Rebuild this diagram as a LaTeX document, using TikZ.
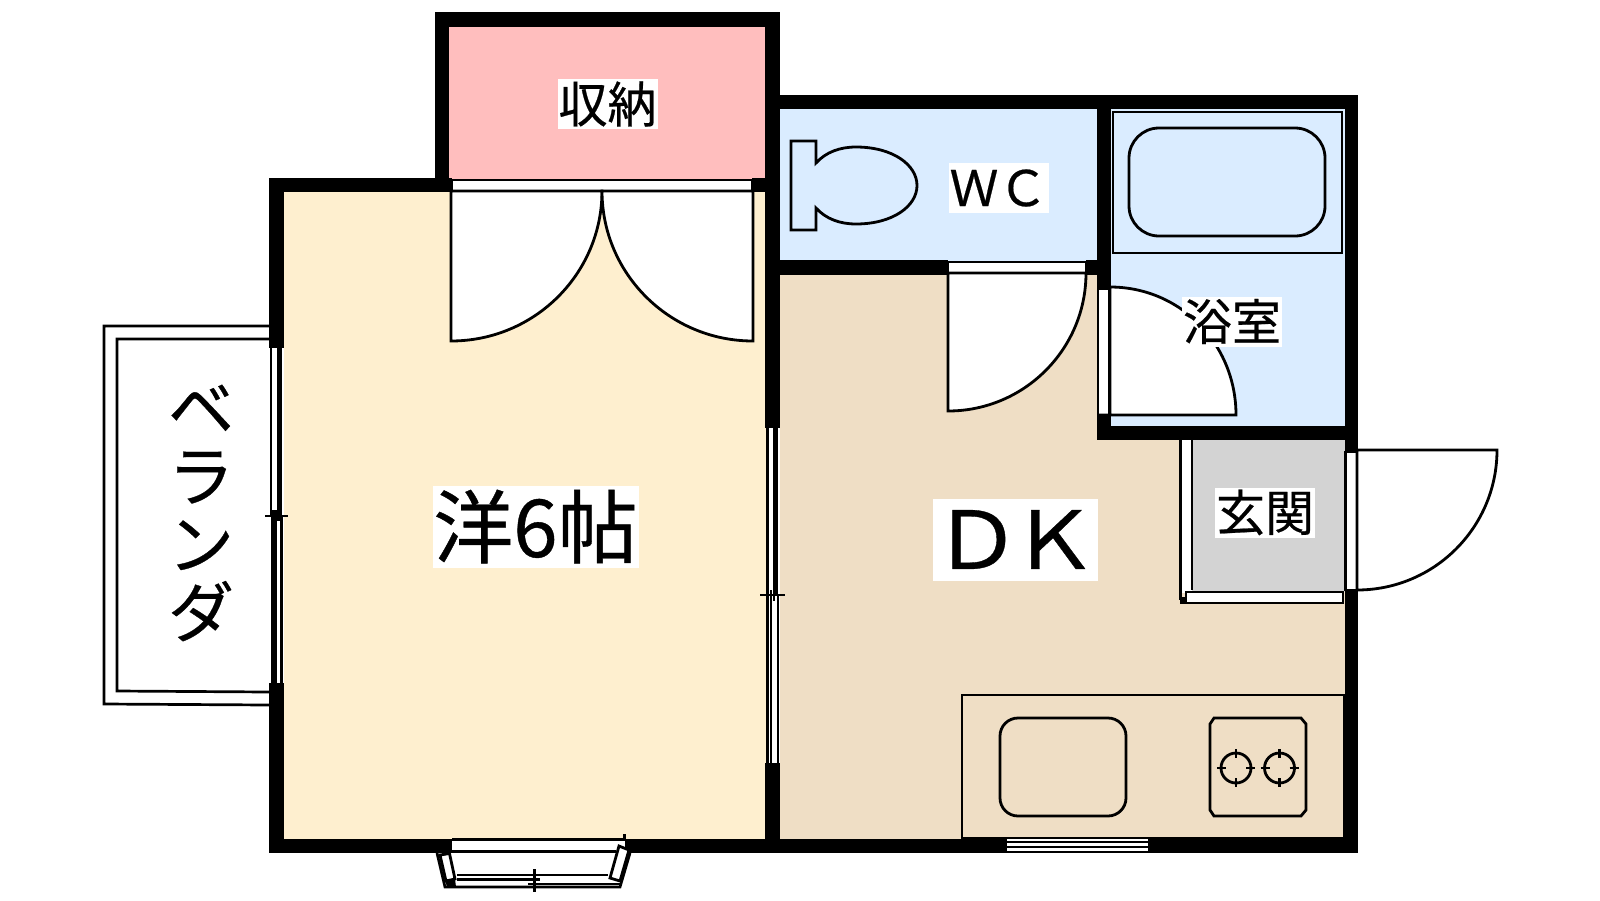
\documentclass[tikz,border=0pt]{standalone}
\usepackage{fontspec}
\setmainfont{Noto Sans CJK JP}[FakeBold=0.45]
\newfontfamily\widelatin{Noto Sans CJK JP}[FakeBold=0.45,FakeStretch=1.1]
\tikzset{
  wall/.style={fill=black,draw=none},
  fix/.style={draw=black,line width=2.7pt},
  thin fix/.style={draw=black,line width=2.1pt},
  door/.style={draw=black,line width=2.8pt,fill=white,line join=miter},
  frame/.style={draw=black,line width=2.4pt,fill=white},
  label/.style={fill=white,inner sep=0pt,text=black,anchor=center},
  lab50/.style={label,font=\fontsize{49}{49}\selectfont,minimum width=100pt,minimum height=50pt},
  lab80/.style={label,font=\fontsize{80}{80}\selectfont,minimum height=82pt}
}
\definecolor{cream}{RGB}{254,239,207}
\definecolor{pinkroom}{RGB}{255,190,190}
\definecolor{bluewet}{RGB}{218,236,255}
\definecolor{beige}{RGB}{239,222,197}
\definecolor{greyhall}{RGB}{211,211,211}
\begin{document}
\begin{tikzpicture}[x=1pt,y=-1pt]
\useasboundingbox (0,0) rectangle (1600,900);
% room fills
\fill[pinkroom] (449,27) rectangle (765,180);
\fill[cream] (284,190) rectangle (767,840);
\fill[bluewet] (780,109) rectangle (1097,262);
\fill[bluewet] (1109,109) rectangle (1346,428);
\fill[beige] (780,273) rectangle (1099,440);
\fill[beige] (780,440) rectangle (1180,840);
\fill[beige] (1180,590) rectangle (1346,840);
\fill[greyhall] (1192,440) rectangle (1346,592);
% balcony
\draw[fix] (269,326) -- (104,326) -- (104,704) -- (269,705);
\draw[fix] (269,339) -- (117,339) -- (117,691) -- (269,692);
% walls
\path[wall] (435,12) rectangle (780,27);
\path[wall] (435,12) rectangle (449,180);
\path[wall] (765,12) rectangle (780,428);
\path[wall] (269,178) rectangle (452,192);
\path[wall] (752,178) rectangle (780,192);
\path[wall] (269,178) rectangle (284,348);
\path[wall] (269,683) rectangle (284,853);
\path[wall] (765,763) rectangle (780,853);
\path[wall] (269,839) rectangle (452,853);
\path[wall] (625,839) rectangle (1358,853);
\path[wall] (780,95) rectangle (1358,109);
\path[wall] (1345,95) rectangle (1358,452);
\path[wall] (1345,590) rectangle (1358,853);
\path[wall] (765,260) rectangle (948,275);
\path[wall] (1086,260) rectangle (1111,275);
\path[wall] (1097,109) rectangle (1111,289);
\path[wall] (1097,415) rectangle (1111,440);
\path[wall] (1097,426) rectangle (1358,440);
% bath window frame between rooms
\fill[white] (1098,289) rectangle (1109,415);
\draw[frame] (1098,289) rectangle (1109,415);
% storage frame and doors
\draw[frame] (452,180) rectangle (752,191);
\draw[door] (451,191) -- (451,341) .. controls (534.4,341) and (602,273.8) .. (602,191) -- cycle;
\draw[door] (753,191) -- (753,341) .. controls (669.6,341) and (602,273.8) .. (602,191) -- cycle;
% WC door
\draw[frame] (948,262) rectangle (1086,273);
\draw[door] (948,273) -- (948,411) .. controls (1024.2,411) and (1086,349.2) .. (1086,273) -- cycle;
% bath door
\draw[door] (1098,415) -- (1236,415) .. controls (1236,344.3) and (1180.7,287) .. (1110,287) -- (1110,415);
% toilet
\draw[door,fill=none] (816,163) -- (816,141) -- (791,141) -- (791,230) -- (816,230) -- (816,208)
  .. controls (826,219) and (840,224) .. (856,224)
  .. controls (893,224) and (917,206) .. (917,185.5)
  .. controls (917,165) and (893,147) .. (856,147)
  .. controls (840,147) and (826,152) .. (816,163) -- cycle;
% bathtub
\draw[door,fill=none] (1113,112) rectangle (1342,253);
\draw[door,fill=none,rounded corners=30pt] (1129,128) rectangle (1325,236);
% entrance
\fill[white] (1180,440) rectangle (1192,593);
\draw[fix] (1180.5,440) -- (1180.5,600);
\draw[fix] (1192,440) -- (1192,590);
\path[wall] (1180,597) rectangle (1186,604);
\draw[frame] (1186,592) rectangle (1343,603);
\fill[white] (1345,452) rectangle (1357,590);
\draw[frame] (1345.5,452) rectangle (1357,590);
\draw[door] (1357,450) -- (1497,450) .. controls (1497,527.3) and (1434.3,590) .. (1357,590) -- cycle;
% kitchen
\draw[fix] (962,839) -- (962,695) -- (1344,695) -- (1344,838) -- (962,838);
\draw[door,fill=none,rounded corners=18pt] (1000,718) rectangle (1126,816);
\draw[door,fill=none] (1214,718) -- (1301,718) -- (1306,724) -- (1306,810) -- (1301,816) -- (1214,816) -- (1210,810) -- (1210,724) -- cycle;
\foreach \cx in {1236,1279.5}{
  \draw[door,fill=none] (\cx,768) circle[radius=15];
  \draw[door,fill=none] (\cx-19,768) -- (\cx-10,768) (\cx+10,768) -- (\cx+19,768)
     (\cx,749) -- (\cx,758) (\cx,778) -- (\cx,787);
}
% kitchen window
\fill[white] (1007,838.5) rectangle (1148,841);
\fill[white] (1007,843) rectangle (1148,846);
\fill[white] (1007,848) rectangle (1148,851);
% west window
\fill[white] (271,348) rectangle (282,683);
\draw[thin fix] (271,348) -- (271,516);
\draw[thin fix] (278.5,348) -- (278.5,521);
\draw[thin fix] (281,348) -- (281,516);
\draw[thin fix] (272.5,510) -- (272.5,683);
\draw[thin fix] (275.5,510) -- (275.5,683);
\draw[thin fix] (281.5,516) -- (281.5,683);
\draw[fix] (265,516) -- (288,516);
% east window between rooms
\fill[white] (767,428) rectangle (778,763);
\draw[thin fix] (767.5,428) -- (767.5,595);
\draw[thin fix] (774,428) -- (774,601);
\draw[thin fix] (776.5,428) -- (776.5,595);
\draw[thin fix] (767.5,590) -- (767.5,763);
\draw[thin fix] (771,590) -- (771,763);
\draw[thin fix] (778,595) -- (778,763);
\draw[fix] (760,595) -- (785,595);
% bay window
\fill[white] (452,840) rectangle (625,851);
\draw[thin fix] (452,839.5) -- (625,839.5);
\draw[fix] (452,851.5) -- (616,851.5);
\draw[frame,line width=2.8pt] (440,855) -- (449.5,853.5) -- (455,879) -- (446,881) -- cycle;
\draw[frame,line width=2.8pt] (619,846) -- (629,850) -- (620,881) -- (610,878) -- cycle;
\draw[fix] (437,853) -- (445,887) -- (620,887) -- (630,853);
\path[wall] (445,880) -- (455,879) -- (456,887) -- (447,887) -- cycle;
\draw[thin fix] (457,875) -- (608,875);
\draw[fix] (457,879.5) -- (540,879.5);
\draw[fix] (528,884) -- (620,884);
\draw[fix] (534.5,869) -- (534.5,892);
\path[wall] (623,834) rectangle (625.5,839);
% labels
\node[lab50] (storage) at (607.5,104) {収納};
\node[lab50] (wc) at (998.5,188) {ＷＣ};
\node[lab50] (bath) at (1232,321.5) {浴室};
\node[lab50] (hall) at (1265,512.5) {玄関};
\node[lab80,minimum width=206pt] (room) at (535.5,526.5) {洋6帖};
\node[lab80,minimum width=165pt] (dk) at (1015.5,539.5) {\widelatin Ｄ\kern-11ptＫ};
\node[inner sep=0pt,align=center,font=\fontsize{66}{68}\selectfont] (veranda) at (201,513) {ベ\\ラ\\ン\\ダ};
\end{tikzpicture}
\end{document}
